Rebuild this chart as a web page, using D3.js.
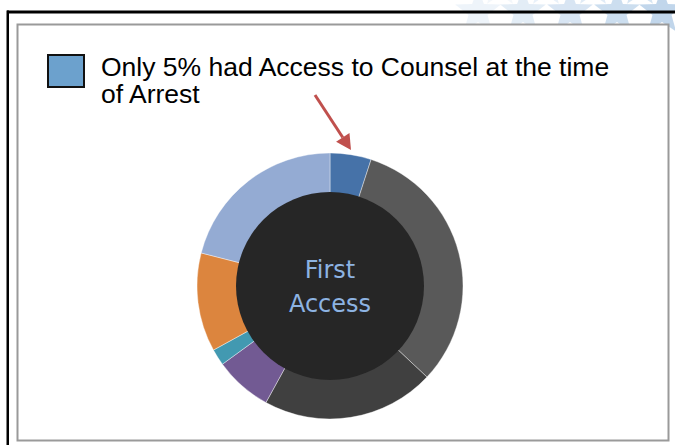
<!DOCTYPE html>
<html>
<head>
<meta charset="utf-8">
<script src="https://cdn.jsdelivr.net/npm/d3@7"></script>
<style>
  html, body { margin: 0; padding: 0; background: #fff; }
  svg { display: block; }
</style>
</head>
<body>
<svg id="chart" width="675" height="445"></svg>
<script>
// Share of people by first point of access to counsel (percent)
const categories = ["Arrest", "Stage 2", "Stage 3", "Stage 4", "Stage 5", "Stage 6", "Stage 7"];
const values = [5, 32, 21, 7, 2, 12, 21];
const colors = ["#4672a8", "#595959", "#404040", "#725a93", "#4299b1", "#dc853e", "#94abd3"];
const legendLines = ["Only 5% had Access to Counsel at the time", "of Arrest"];
const centerLines = ["First", "Access"];

const svg = d3.select("#chart");
const W = 675, H = 445;

// decorative star band in the top-right corner
const starG = svg.append("g");
function starPath(cx, cy, R, r) {
  const pts = [];
  for (let i = 0; i < 10; i++) {
    const a = -Math.PI / 2 + i * Math.PI / 5;
    const rad = i % 2 === 0 ? R : r;
    pts.push([cx + rad * Math.cos(a), cy + rad * Math.sin(a)]);
  }
  return d3.line()(pts) + "Z";
}
const starXs = [478, 523, 570, 617, 662];
starXs.forEach((x, i) => {
  starG.append("path")
    .attr("d", starPath(x, 12, 24, 10))
    .attr("fill", "#bcd3ea")
    .attr("opacity", 0.25 + i * 0.17);
});
[500, 546, 593, 640].forEach((x, i) => {
  starG.append("path")
    .attr("d", starPath(x, -14, 22, 9))
    .attr("fill", "#cfe0f1")
    .attr("opacity", 0.25 + i * 0.2);
});

// outer black frame (top and left edges)
svg.append("rect").attr("x", 7).attr("y", 10.5).attr("width", W).attr("height", 3).attr("fill", "#000");
svg.append("rect").attr("x", 6.5).attr("y", 10.5).attr("width", 2.5).attr("height", H).attr("fill", "#000");

// white plot area with grey border
svg.append("rect")
  .attr("x", 17.5).attr("y", 24.5).attr("width", 651).attr("height", 416)
  .attr("fill", "#fff").attr("stroke", "#9a9a9a").attr("stroke-width", 2);

// legend
svg.append("rect")
  .attr("x", 48).attr("y", 55).attr("width", 36).attr("height", 32)
  .attr("fill", "#6ca1cd").attr("stroke", "#111").attr("stroke-width", 2);
svg.append("text")
  .attr("x", 101).attr("y", 75.5)
  .attr("font-family", "Liberation Sans, Arial, sans-serif")
  .attr("font-size", 26.5).attr("fill", "#000")
  .selectAll("tspan").data(legendLines).join("tspan")
  .attr("x", 101).attr("dy", (d, i) => i === 0 ? 0 : 27.5)
  .text(d => d);

// donut
const cx = 330, cy = 286, rIn = 94, rOut = 133;
const g = svg.append("g").attr("transform", `translate(${cx},${cy})`);
const pie = d3.pie().sort(null).value(d => d.v).startAngle(0).endAngle(2 * Math.PI);
const arc = d3.arc().innerRadius(rIn - 2).outerRadius(rOut);
const data = categories.map((c, i) => ({ c, v: values[i], col: colors[i] }));
g.selectAll("path.slice").data(pie(data)).join("path")
  .attr("class", "slice")
  .attr("d", arc)
  .attr("fill", d => d.data.col)
  .attr("stroke", "#fff").attr("stroke-width", 0.4);

g.append("circle").attr("r", rIn).attr("fill", "#262626");

g.append("text")
  .attr("text-anchor", "middle")
  .attr("font-family", "DejaVu Sans, sans-serif")
  .attr("font-size", 24).attr("fill", "#8db3e2")
  .selectAll("tspan").data(centerLines).join("tspan")
  .attr("x", 0).attr("y", (d, i) => -8 + i * 34)
  .text(d => d);

// arrow pointing at the first slice
const a0 = [315, 95], a1 = [351, 150];
const ang = Math.atan2(a1[1] - a0[1], a1[0] - a0[0]);
const headLen = 15, headW = 8;
const bx = a1[0] - headLen * Math.cos(ang), by = a1[1] - headLen * Math.sin(ang);
svg.append("line")
  .attr("x1", a0[0]).attr("y1", a0[1]).attr("x2", bx).attr("y2", by)
  .attr("stroke", "#c0504d").attr("stroke-width", 3);
svg.append("path")
  .attr("d", d3.line()([
    a1,
    [bx + headW * Math.sin(ang), by - headW * Math.cos(ang)],
    [bx - headW * Math.sin(ang), by + headW * Math.cos(ang)]
  ]) + "Z")
  .attr("fill", "#c0504d");
</script>
</body>
</html>
